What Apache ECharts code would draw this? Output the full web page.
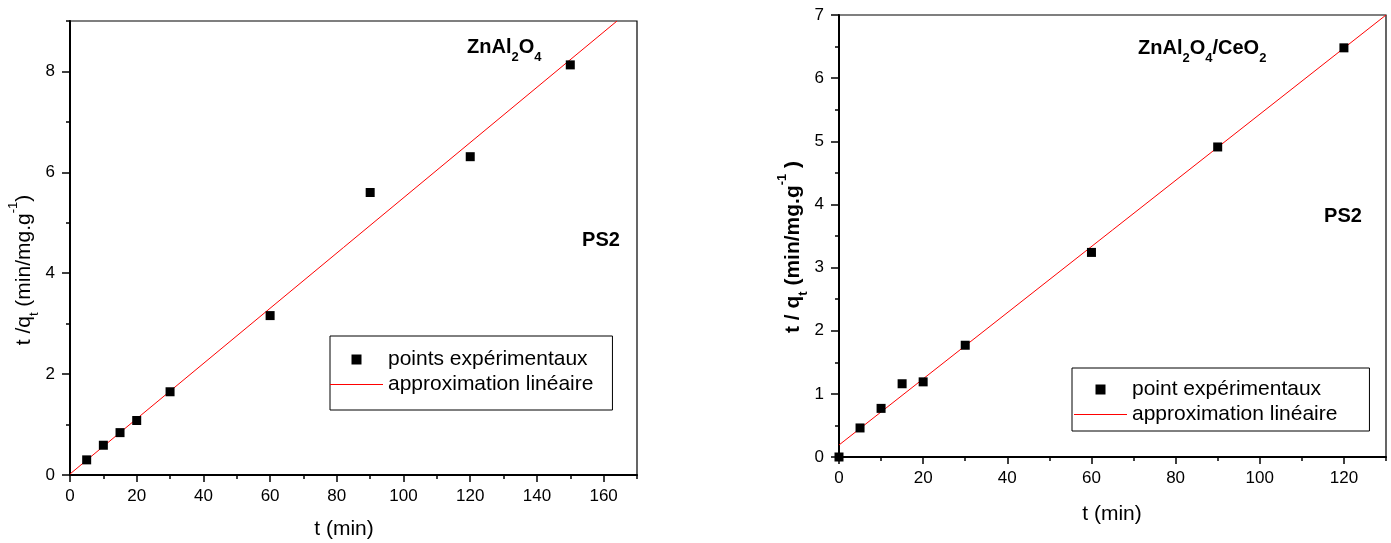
<!DOCTYPE html>
<html>
<head>
<meta charset="utf-8">
<script src="https://cdn.jsdelivr.net/npm/echarts@6/dist/echarts.min.js"></script>
<style>
  html, body { margin: 0; padding: 0; background: #fff; }
  #chart { width: 1391px; height: 543px; }
</style>
</head>
<body>
<div id="chart"></div>
<script>
// Pseudo-second-order kinetics, PS2: t/qt versus t

// ZnAl2O4
const leftTime = [5, 10, 15, 20, 30, 60, 90, 120, 150];
const leftRatio = [0.30, 0.59, 0.84, 1.08, 1.65, 3.16, 5.60, 6.31, 8.13];
const leftFitTime = [0, 164];
const leftFitRatio = [0.02, 9.0];

// ZnAl2O4/CeO2
const rightTime = [0, 5, 10, 15, 20, 30, 60, 90, 120];
const rightRatio = [0.0, 0.46, 0.77, 1.16, 1.19, 1.77, 3.24, 4.91, 6.48];
const rightFitTime = [0, 130];
const rightFitRatio = [0.19, 7.0];

const leftPointsName = 'points expérimentaux';
const rightPointsName = 'point expérimentaux';
const fitName = 'approximation linéaire';

const FONT = '"Liberation Sans", Arial, Helvetica, sans-serif';
const SQUARE = 'path://M0,0H10V10H0Z';
const DASH = 'path://M0,0H53V1H0Z';
const pairs = (xs, ys) => xs.map((x, i) => [x, ys[i]]);

function majorX(grid, max) {
  return {
    type: 'value', gridIndex: grid, position: 'bottom', min: 0, max: max, interval: 20,
    axisLine: { show: true, lineStyle: { color: '#000', width: 2 } },
    axisTick: { show: true, length: 7, lineStyle: { color: '#000', width: 1.5 } },
    axisLabel: { show: true, fontSize: 17, fontFamily: FONT, color: '#000', margin: 13, showMaxLabel: false },
    splitLine: { show: false }
  };
}
function minorX(grid, max) {
  return {
    type: 'value', gridIndex: grid, position: 'bottom', min: 0, max: max, interval: 10,
    axisLine: { show: false },
    axisTick: { show: true, length: 4, lineStyle: { color: '#000', width: 1.5 } },
    axisLabel: { show: false },
    splitLine: { show: false }
  };
}
function majorY(grid, max, step, hideMax) {
  return {
    type: 'value', gridIndex: grid, position: 'left', min: 0, max: max, interval: step,
    axisLine: { show: true, lineStyle: { color: '#000', width: 2 } },
    axisTick: { show: true, length: 8, lineStyle: { color: '#000', width: 1.5 } },
    axisLabel: { show: true, fontSize: 17, fontFamily: FONT, color: '#000', margin: 15, showMaxLabel: !hideMax },
    splitLine: { show: false }
  };
}
function minorY(grid, max, step) {
  return {
    type: 'value', gridIndex: grid, position: 'left', min: 0, max: max, interval: step,
    axisLine: { show: false },
    axisTick: { show: true, length: 4, lineStyle: { color: '#000', width: 1.5 } },
    axisLabel: { show: false },
    splitLine: { show: false }
  };
}

// rich styles: m = main text, s = subscript, u = superscript
function richSet(size, weight) {
  return {
    m: { fontSize: size, fontWeight: weight, fontFamily: FONT, color: '#000', lineHeight: 34, verticalAlign: 'middle' },
    s: { fontSize: 13, fontWeight: weight, fontFamily: FONT, color: '#000', lineHeight: 13, verticalAlign: 'bottom' },
    u: { fontSize: 13, fontWeight: weight, fontFamily: FONT, color: '#000', lineHeight: 13, verticalAlign: 'top' }
  };
}

function label(x, y, text, size, weight, align, vAlign, rotation) {
  return {
    type: 'text', x: x, y: y, rotation: rotation || 0, silent: true,
    style: { text: text, rich: richSet(size, weight), align: align, verticalAlign: vAlign, fill: '#000' }
  };
}

function legendFor(pointsName, left, top, padding) {
  return {
    left: left, top: top, orient: 'vertical', selectedMode: false,
    data: [
      { name: pointsName, icon: SQUARE },
      { name: fitName, icon: DASH }
    ],
    symbolKeepAspect: true,
    itemWidth: 53, itemHeight: 10, itemGap: 4,
    textStyle: { fontSize: 21, fontFamily: FONT, color: '#000' },
    borderColor: '#000', borderWidth: 1, padding: padding
  };
}

const chart = echarts.init(document.getElementById('chart'), null, { renderer: 'canvas' });

const option = {
  backgroundColor: '#fff',
  animation: false,
  grid: [
    { left: 70, top: 21, width: 567, height: 454, show: true, borderColor: '#000', borderWidth: 1.2, backgroundColor: 'transparent' },
    { left: 839, top: 15, width: 547, height: 442, show: true, borderColor: '#000', borderWidth: 1.2, backgroundColor: 'transparent' }
  ],
  xAxis: [ majorX(0, 170), minorX(0, 170), majorX(1, 130), minorX(1, 130) ],
  yAxis: [ majorY(0, 9, 2, true), minorY(0, 9, 1), majorY(1, 7, 1, false), minorY(1, 7, 0.5) ],
  legend: [
    legendFor(leftPointsName, 330, 336, [13, 19, 15, 0]),
    legendFor(rightPointsName, 1072, 368, [11, 32, 6, 2])
  ],
  series: [
    {
      name: fitName, type: 'line', xAxisIndex: 0, yAxisIndex: 0,
      data: pairs(leftFitTime, leftFitRatio), symbol: 'none', clip: true,
      lineStyle: { color: '#ff0000', width: 1 }, itemStyle: { color: '#ff0000' }, z: 3
    },
    {
      name: leftPointsName, type: 'scatter', xAxisIndex: 0, yAxisIndex: 0,
      data: pairs(leftTime, leftRatio), symbol: 'rect', symbolSize: 9,
      itemStyle: { color: '#000', opacity: 1 }, z: 4
    },
    {
      name: fitName, type: 'line', xAxisIndex: 2, yAxisIndex: 2,
      data: pairs(rightFitTime, rightFitRatio), symbol: 'none', clip: true,
      lineStyle: { color: '#ff0000', width: 1 }, itemStyle: { color: '#ff0000' }, z: 3
    },
    {
      name: rightPointsName, type: 'scatter', xAxisIndex: 2, yAxisIndex: 2,
      data: pairs(rightTime, rightRatio), symbol: 'rect', symbolSize: 9,
      itemStyle: { color: '#000', opacity: 1 }, z: 4
    }
  ],
  graphic: [
    // axis titles
    label(344, 529, '{m|t (min)}', 21, 'normal', 'center', 'middle'),
    label(1112, 514, '{m|t (min)}', 21, 'normal', 'center', 'middle'),
    label(24, 270, '{m|t /q}{s|t}{m| (min/mg.g}{u|-1}{m|)}', 21, 'normal', 'center', 'middle', Math.PI / 2),
    label(793, 247, '{m|t / q}{s|t}{m| (min/mg.g}{u|-1}{m| )}', 21, 'bold', 'center', 'middle', Math.PI / 2),
    // sample labels
    label(467, 30, '{m|ZnAl}{s|2}{m|O}{s|4}', 20, 'bold', 'left', 'top'),
    label(1138, 31, '{m|ZnAl}{s|2}{m|O}{s|4}{m|/CeO}{s|2}', 20, 'bold', 'left', 'top'),
    label(601, 240, '{m|PS2}', 20, 'bold', 'center', 'middle'),
    label(1343, 216, '{m|PS2}', 20, 'bold', 'center', 'middle')
  ]
};

chart.setOption(option);
</script>
</body>
</html>
